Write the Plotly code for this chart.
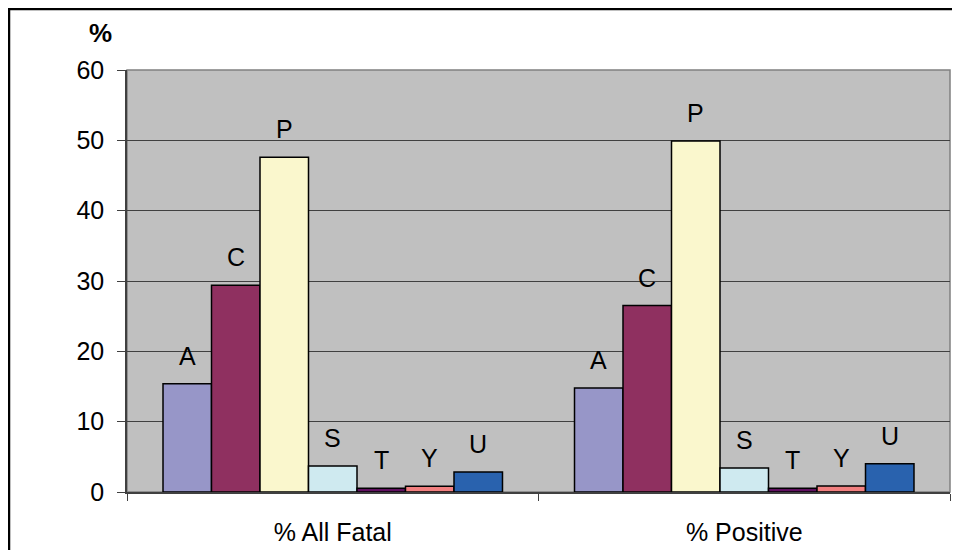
import plotly.graph_objects as go

categories = ["% All Fatal", "% Positive"]
series_names = ["A", "C", "P", "S", "T", "Y", "U"]
series_colors = ["#9796C8", "#8F3060", "#FAF7CD", "#CFEAF0", "#601060", "#F28080", "#2962AE"]
values_all_fatal = [15.4, 29.4, 47.6, 3.7, 0.55, 0.8, 2.85]
values_positive = [14.8, 26.5, 49.9, 3.4, 0.55, 0.85, 4.0]
y_ticks = [0, 10, 20, 30, 40, 50, 60]

FONT = "Liberation Sans, Arial, sans-serif"
BARGAP = 0.175
W, H = 952, 542
ML, MR, MT, MB = 119, 10, 62, 58
PW, PH = W - ML - MR, H - MT - MB

fig = go.Figure()
n = len(series_names)
annotations = []
for i, name in enumerate(series_names):
    vals = [values_all_fatal[i], values_positive[i]]
    fig.add_trace(go.Bar(
        x=categories, y=vals, name=name,
        marker=dict(color=series_colors[i], line=dict(color="#000000", width=1.5)),
        hoverinfo="x+y+name",
    ))
    slot = (1 - BARGAP) / n
    for ci, v in enumerate(vals):
        annotations.append(dict(
            x=ci + (i - (n - 1) / 2) * slot, y=v, xref="x", yref="y",
            text=name, showarrow=False, yanchor="bottom", yshift=12,
            font=dict(family=FONT, size=25, color="#000000"),
        ))

annotations.append(dict(
    x=(100 - 8 - ML) / PW, y=1 + (MT - (33 - 8)) / PH, xref="paper", yref="paper",
    text="<b>%</b>", showarrow=False, xanchor="center", yanchor="middle",
    font=dict(family=FONT, size=26, color="#000000"),
))

fig.update_layout(
    width=W, height=H,
    paper_bgcolor="#FFFFFF", plot_bgcolor="#C0C0C0",
    barmode="group", bargap=BARGAP, bargroupgap=0,
    showlegend=False,
    margin=dict(l=ML, r=MR, t=MT, b=MB),
    font=dict(family=FONT, size=25, color="#000000"),
    annotations=annotations,
    shapes=[
        dict(type="rect", xref="paper", yref="paper", x0=0, x1=1, y0=0, y1=1,
             line=dict(color="#808080", width=1.5), fillcolor="rgba(0,0,0,0)", layer="below"),
        dict(type="rect", xref="paper", yref="paper",
             x0=(1 - ML) / PW, x1=1 + (MR + 20) / PW, y0=-(MB + 20) / PH, y1=1 + (MT - 1) / PH,
             line=dict(color="#000000", width=2.5), fillcolor="rgba(0,0,0,0)"),
    ],
)
fig.update_yaxes(
    range=[0, 60], tickvals=y_ticks, showgrid=True, gridcolor="#404040", gridwidth=1,
    showline=True, linecolor="#404040", linewidth=1.5, ticks="outside", ticklen=8,
    tickcolor="#404040", ticklabelstandoff=8, zeroline=False, automargin=False,
    tickfont=dict(family=FONT, size=25),
)
fig.update_xaxes(
    showline=True, linecolor="#404040", linewidth=1.5, ticks="outside", ticklen=7,
    tickcolor="#404040", tickson="boundaries", showgrid=False, ticklabelstandoff=17,
    automargin=False, tickfont=dict(family=FONT, size=25),
)

fig.write_html("out.html")
